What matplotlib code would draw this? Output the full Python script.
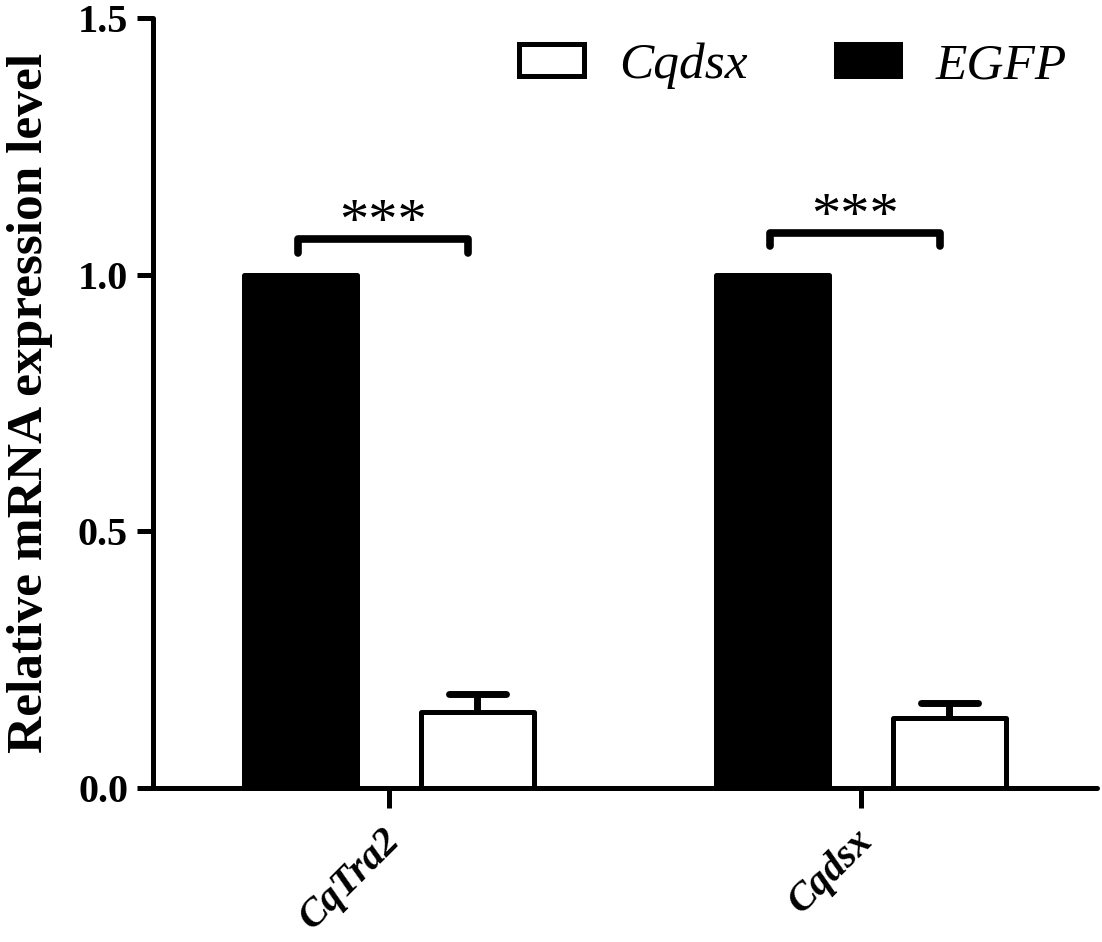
import matplotlib
matplotlib.use('Agg')
import matplotlib.pyplot as plt
import numpy as np
from matplotlib.patches import Patch
from matplotlib.font_manager import FontProperties
from matplotlib.transforms import ScaledTranslation

# ---- data ----
groups = ['CqTra2', 'Cqdsx']
series = ['Cqdsx', 'EGFP']
egfp_vals = [1.0, 1.0]
cqdsx_vals = [0.148, 0.137]
cqdsx_err = [0.035, 0.028]
sig_labels = ['***', '***']
sig_low = [1.042, 1.056]
sig_high = [1.070, 1.081]
yticks = [0.0, 0.5, 1.0, 1.5]
ytick_labels = ['0.0', '0.5', '1.0', '1.5']
ylabel = 'Relative mRNA expression level'

W, H = 1102, 942
SERIF = 'Liberation Serif'
fig = plt.figure(figsize=(W / 100, H / 100), dpi=100)
ax = fig.add_axes([153 / W, 1 - 788 / H, (1097 - 153) / W, (788 - 18) / H])

x = np.arange(len(groups))
off = 0.187
bw = 0.240
lw = 3.6

ax.bar(x - off, egfp_vals, bw, color='black', edgecolor='black', linewidth=lw,
       joinstyle='round', zorder=2)
ax.bar(x + off, cqdsx_vals, bw, color='white', edgecolor='black', linewidth=lw,
       joinstyle='round', zorder=2)

# error bars (upper only) with rounded caps
tops = np.array(cqdsx_vals) + np.array(cqdsx_err)
ax.vlines(x + off, cqdsx_vals, tops, color='black', linewidth=5, zorder=3)
ax.hlines(tops, x + off - 0.06, x + off + 0.06, color='black', linewidth=5,
          capstyle='round', zorder=3)

# significance brackets
for i, lab in enumerate(sig_labels):
    l = x[i] - off - 0.005
    r = x[i] + off - 0.02
    ax.plot([l, l, r, r], [sig_low[i], sig_high[i], sig_high[i], sig_low[i]],
            color='black', linewidth=5.5, solid_capstyle='round',
            solid_joinstyle='round', zorder=3)
    ax.text((l + r) / 2, sig_high[i] + 0.002, lab, ha='center', va='baseline',
            fontsize=42, family=SERIF, color='black')

ax.set_xlim(-0.5, 1.5)
ax.set_ylim(0, 1.5)
for s in ['top', 'right']:
    ax.spines[s].set_visible(False)
for s in ['left', 'bottom']:
    ax.spines[s].set_linewidth(3.6)
    ax.spines[s].set_capstyle('round')

ax.set_yticks(yticks)
ax.set_yticklabels(ytick_labels, fontsize=29, fontweight='bold', family=SERIF)
ax.tick_params(axis='y', length=11.5, width=3.6, pad=6.5)
ax.set_xticks(x)
ax.set_xticklabels(groups, fontsize=29, fontweight='bold', fontstyle='italic',
                   family=SERIF, rotation=45, ha='right', rotation_mode='anchor')
ax.tick_params(axis='x', length=14.4, width=3.6, pad=8)
shift = ScaledTranslation(-7 / 100, -3 / 100, fig.dpi_scale_trans)
for t in ax.get_xticklabels():
    t.set_transform(t.get_transform() + shift)

ax.set_ylabel(ylabel, fontsize=37, fontweight='bold', family=SERIF)
ax.yaxis.set_label_coords(-0.106, 0.5)

handles = [Patch(facecolor='white', edgecolor='black', linewidth=3.6, joinstyle='round'),
           Patch(facecolor='black', edgecolor='black', linewidth=3.6, joinstyle='round')]
leg = fig.legend(handles, series, prop=FontProperties(family=SERIF, style='italic', size=37),
                 ncol=2, frameon=False, handlelength=1.26, handleheight=0.58,
                 handletextpad=0.68, columnspacing=1.72, loc='center left',
                 bbox_to_anchor=(519 / W, 1 - 66 / H), bbox_transform=fig.transFigure,
                 borderpad=0, borderaxespad=0)

fig.savefig('out.png', dpi=100, facecolor='white')
